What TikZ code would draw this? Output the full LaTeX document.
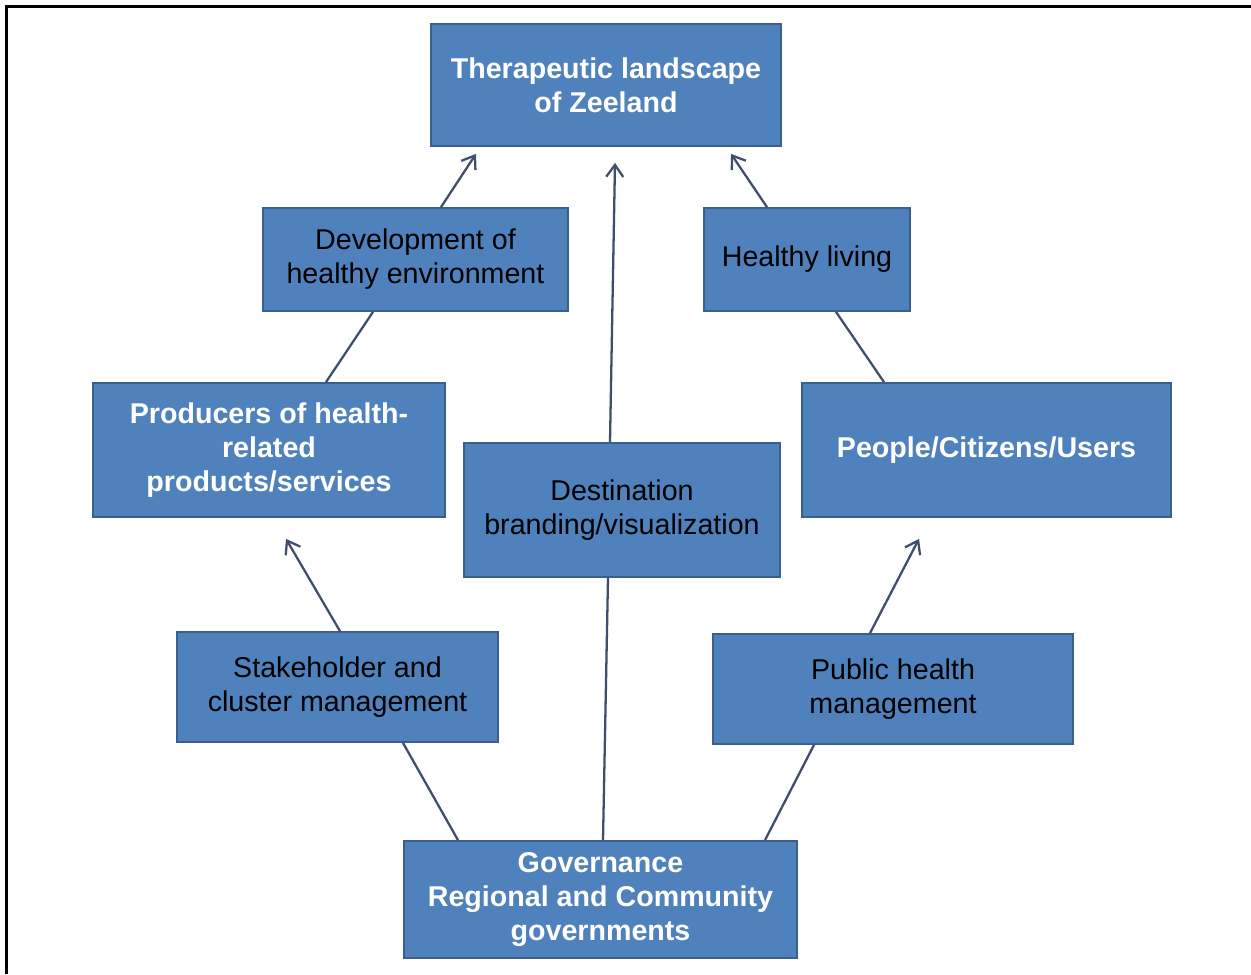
\documentclass[tikz,border=0pt]{standalone}
\usepackage{fontspec}
\setmainfont{Liberation Sans}
\usetikzlibrary{positioning, calc, arrows.meta}
\def\unit{0.02cm}
\definecolor{boxfill}{HTML}{4F81BD}
\definecolor{boxline}{HTML}{3A5F8C}
\definecolor{linkcol}{HTML}{3F4F6B}
\begin{document}
\begin{tikzpicture}[x=\unit, y=-\unit, line width=1.3pt]
			\tikzstyle{block}=[rectangle, draw=boxline, fill=boxfill, line width=1pt, inner sep=0pt, align=center, font=\fontsize{16.3}{19.3}\selectfont]
			\tikzstyle{main block}=[block, text=white, font=\fontsize{16.3}{19.3}\selectfont\bfseries]
			\tikzstyle{link}=[draw=linkcol]
			\tikzstyle{arrow link}=[link, -{Straight Barb[length=2.4mm, width=3.4mm]}]

			\useasboundingbox (0,0) rectangle (1251,974);
			% frame round the picture
			\draw[line width=1.7pt] (6.5,974) -- (6.5,6.5) -- (1251,6.5);

			% Draw the boxes, top row first
			\node[main block, minimum width=350*\unit, minimum height=122*\unit] (ther) at (606,85) {Therapeutic landscape\\of Zeeland};
			\node[block, minimum width=305*\unit, minimum height=103*\unit] (dev) at (415.5,259.5) {Development of\\healthy environment};
			\node[block, minimum width=206*\unit, minimum height=103*\unit] (heal) at (807,259.5) {Healthy living};
			\node[main block, minimum width=352*\unit, minimum height=134*\unit] (prod) at (269,450) {Producers of health-\\related\\products/services};
			\node[main block, minimum width=369*\unit, minimum height=134*\unit] (peop) at (986.5,450) {People/Citizens/Users};
			\node[block, minimum width=316*\unit, minimum height=134*\unit] (dest) at (622,510) {Destination\\branding/visualization};
			\node[block, minimum width=321*\unit, minimum height=110*\unit] (stak) at (337.5,687) {Stakeholder and\\cluster management};
			\node[block, minimum width=360*\unit, minimum height=110*\unit] (pub) at (893,689) {Public health\\management};
			\node[main block, minimum width=393*\unit, minimum height=117*\unit] (gov) at (600.5,899.5) {Governance\\Regional and Community\\governments};

			% Free ends of the arrows
			\coordinate (tip-dev) at ($(ther.south)+(-130,7)$);
			\coordinate (tip-dest) at ($(ther.south)+(9,16)$);
			\coordinate (tip-heal) at ($(ther.south)+(125,7)$);
			\coordinate (tip-stak) at ($(prod.south)+(17,21)$);
			\coordinate (tip-pub) at ($(peop.south)+(-67.5,21)$);

			% Arrows
			\path[arrow link] ($(dev.north)+(25.5,0)$) -- (tip-dev);
			\path[arrow link] ($(dest.north)+(-12,0)$) -- (tip-dest);
			\path[arrow link] ($(heal.north)+(-40,0)$) -- (tip-heal);
			\path[arrow link] ($(stak.north)+(2.5,0)$) -- (tip-stak);
			\path[arrow link] ($(pub.north)+(-23,0)$) -- (tip-pub);

			% Plain links
			\path[link] ($(prod.north)+(57,0)$) -- ($(dev.south)+(-42.5,0)$);
			\path[link] ($(peop.north)+(-102.5,0)$) -- ($(heal.south)+(29,0)$);
			\path[link] ($(gov.north)+(-142.5,0)$) -- ($(stak.south)+(65.5,0)$);
			\path[link] ($(gov.north)+(2.5,0)$) -- ($(dest.south)+(-14,0)$);
			\path[link] ($(gov.north)+(164.5,0)$) -- ($(pub.south)+(-79,0)$);
\end{tikzpicture}
\end{document}
